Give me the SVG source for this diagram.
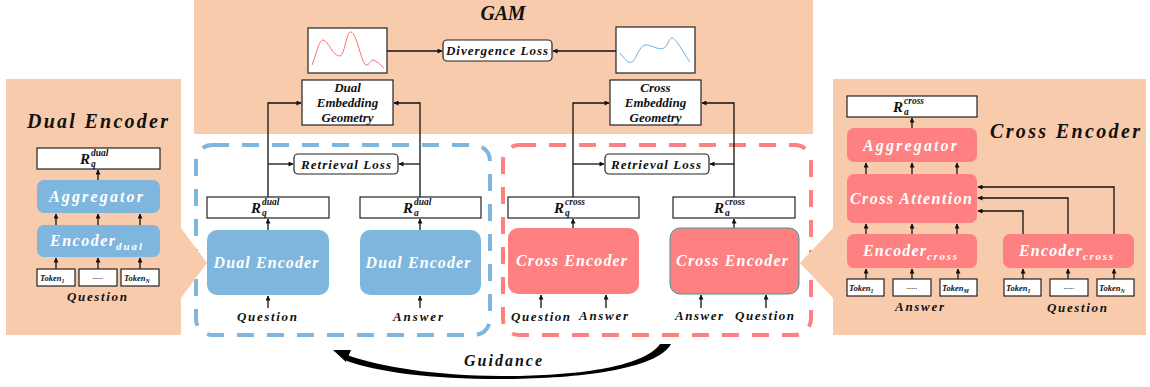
<svg xmlns="http://www.w3.org/2000/svg" width="1150" height="387" viewBox="0 0 1150 387">
<style>
.pan{fill:#F8CBAD}
.blue{fill:#7FB6DE}
.red{fill:#FF8080}
.wb{fill:#fff;stroke:#222;stroke-width:1.2}
.t{font-family:"Liberation Serif",serif;font-weight:bold;font-style:italic;fill:#111}
.w{fill:#fff}
.ln{stroke:#111;stroke-width:1.3;fill:none}
.arr{marker-end:url(#ah)}
.mid{text-anchor:middle}
</style>
<defs>
<marker id="ah" viewBox="0 0 10 10" refX="9" refY="5" markerWidth="6" markerHeight="5" orient="auto" markerUnits="userSpaceOnUse"><path d="M0,0 L10,5 L0,10 z" fill="#111"/></marker>
</defs>
<rect width="1150" height="387" fill="#fff"/>

<!-- panels -->
<g id="gam-panel">
<rect class="pan" x="194" y="0" width="619" height="134"/>
<text class="t mid" x="503" y="20" font-size="20" textLength="45" lengthAdjust="spacing">GAM</text>
</g>

<g id="dual-group" fill="none" stroke="#7FB6DE" stroke-width="4" stroke-dasharray="17 13">
<rect x="196" y="145" width="294" height="190" rx="16"/>
</g>
<g id="cross-group" fill="none" stroke="#FF8080" stroke-width="4" stroke-dasharray="17 13">
<rect x="503" y="145" width="308" height="190" rx="16"/>
</g>

<g id="dual-panel">
<path class="pan" d="M6,79 H181 V228 L207,263 L181,298 V335 H6 Z"/>
<text class="t mid" x="97.5" y="128" font-size="20" textLength="141" lengthAdjust="spacing">Dual Encoder</text>
</g>
<g id="cross-panel">
<path class="pan" d="M1146,79 V335 H833 V298 L800,263 L833,228 V79 Z"/>
<text class="t mid" x="1065" y="138" font-size="20" textLength="150" lengthAdjust="spacing">Cross Encoder</text>
</g>

<!-- connectors -->
<g id="connectors">
<path class="ln arr" d="M268,197 V103 H301"/>
<path class="ln arr" d="M268,164 H293"/>
<path class="ln arr" d="M420,197 V103 H394"/>
<path class="ln arr" d="M420,164 H399"/>
<path class="ln arr" d="M573,197 V103 H609"/>
<path class="ln arr" d="M573,164 H604"/>
<path class="ln arr" d="M734,197 V103 H702"/>
<path class="ln arr" d="M734,164 H710"/>
<path class="ln arr" d="M387,51 H442"/>
<path class="ln arr" d="M616,51 H553"/>
<path class="ln arr" d="M268,230 V219"/>
<path class="ln arr" d="M420,230 V219"/>
<path class="ln arr" d="M573,228 V219"/>
<path class="ln arr" d="M734,228 V219"/>
<path class="ln arr" d="M268,308 V296"/>
<path class="ln arr" d="M420,308 V296"/>
<path class="ln arr" d="M541,308 V295"/>
<path class="ln arr" d="M606,308 V295"/>
<path class="ln arr" d="M701,308 V295"/>
<path class="ln arr" d="M766,308 V295"/>
<!-- left panel -->
<path class="ln arr" d="M98,180 V170"/>
<path class="ln arr" d="M56,225 V214"/>
<path class="ln arr" d="M98,225 V214"/>
<path class="ln arr" d="M140,225 V214"/>
<path class="ln arr" d="M56,269 V258"/>
<path class="ln arr" d="M98,269 V258"/>
<path class="ln arr" d="M140,269 V258"/>
<!-- right panel -->
<path class="ln arr" d="M912,128 V118"/>
<path class="ln arr" d="M866,174 V163"/>
<path class="ln arr" d="M912,174 V163"/>
<path class="ln arr" d="M957,174 V163"/>
<path class="ln arr" d="M866,234 V224"/>
<path class="ln arr" d="M912,234 V224"/>
<path class="ln arr" d="M957,234 V224"/>
<path class="ln arr" d="M1023,234 V211 H978"/>
<path class="ln arr" d="M1068,234 V198 H978"/>
<path class="ln arr" d="M1114,234 V187 H978"/>
<path class="ln arr" d="M866,279 V269"/>
<path class="ln arr" d="M912,279 V269"/>
<path class="ln arr" d="M958,279 V269"/>
<path class="ln arr" d="M1023,279 V269"/>
<path class="ln arr" d="M1068,279 V269"/>
<path class="ln arr" d="M1114,279 V269"/>
<!-- guidance -->
<path fill="#000" d="M660,344 L671,344 C656,371 570,379 500,379 C430,379 378,372 347,361 L347,355 C380,367 435,375.5 500,376 C565,376.5 643,369 660,344 Z"/>
<polygon fill="#000" points="333,350 351,350 346,362"/>
<text class="t mid" x="503" y="366" font-size="16" textLength="78" lengthAdjust="spacing">Guidance</text>
</g>

<!-- GAM nodes -->
<g id="red-plot">
<rect class="wb" x="308" y="28" width="79" height="45"/>
<path fill="none" stroke="#FF6B6B" stroke-width="1" d="M312,65 C316,55 319,40 323,40 C328,40 333,57 340,56 C345,55 346,31 351,32 C357,33 361,63 366,65 C369,66 371,59 373,60 C377,61 380,65 384,68"/>
</g>
<g id="blue-plot">
<rect class="wb" x="616" y="27" width="79" height="46"/>
<path fill="none" stroke="#6FAEDC" stroke-width="1" d="M620,53 C624,58 628,64 632,62 C636,60 639,46 645,45 C651,44 658,51 664,48 C668,46 669,38 672,38 C676,38 684,54 690,62"/>
</g>
<g id="divergence-loss">
<rect class="wb" x="443" y="40" width="109" height="21" rx="4"/>
<text class="t mid" x="497" y="55" font-size="13" textLength="102" lengthAdjust="spacing">Divergence Loss</text>
</g>
<g id="dual-geometry">
<rect class="wb" x="302" y="80" width="91" height="45"/>
<text class="t mid" x="347.5" y="92" font-size="13">Dual</text>
<text class="t mid" x="347.5" y="107" font-size="13">Embedding</text>
<text class="t mid" x="347.5" y="122" font-size="13">Geometry</text>
</g>
<g id="cross-geometry">
<rect class="wb" x="610" y="80" width="91" height="45"/>
<text class="t mid" x="655.5" y="92" font-size="13">Cross</text>
<text class="t mid" x="655.5" y="107" font-size="13">Embedding</text>
<text class="t mid" x="655.5" y="122" font-size="13">Geometry</text>
</g>

<!-- dual side -->
<g id="dual-retrieval-loss">
<rect class="wb" x="294" y="154" width="104" height="20" rx="4"/>
<text class="t mid" x="346" y="168.5" font-size="13" textLength="90" lengthAdjust="spacing">Retrieval Loss</text>
</g>
<g id="rq-dual">
<rect class="wb" x="207" y="197" width="122" height="21"/>
<text class="t" x="251" y="213" font-size="15">R</text>
<text class="t" x="262" y="204.5" font-size="9.5">dual</text>
<text class="t" x="262" y="216" font-size="9.5">q</text>
</g>
<g id="ra-dual">
<rect class="wb" x="360" y="197" width="121" height="21"/>
<text class="t" x="403" y="213" font-size="15">R</text>
<text class="t" x="414" y="204.5" font-size="9.5">dual</text>
<text class="t" x="414" y="216" font-size="9.5">a</text>
</g>
<g id="dual-encoder-q">
<rect class="blue" x="207" y="230" width="122" height="65" rx="10"/>
<text class="t mid w" x="266" y="268" font-size="16" textLength="105" lengthAdjust="spacing">Dual Encoder</text>
<text class="t mid" x="267" y="321" font-size="13" textLength="60" lengthAdjust="spacing">Question</text>
</g>
<g id="dual-encoder-a">
<rect class="blue" x="360" y="230" width="121" height="65" rx="10"/>
<text class="t mid w" x="418" y="268" font-size="16" textLength="105" lengthAdjust="spacing">Dual Encoder</text>
<text class="t mid" x="418" y="321" font-size="13" textLength="50" lengthAdjust="spacing">Answer</text>
</g>

<!-- cross side -->
<g id="cross-retrieval-loss">
<rect class="wb" x="605" y="154" width="104" height="20" rx="4"/>
<text class="t mid" x="656" y="168.5" font-size="13" textLength="90" lengthAdjust="spacing">Retrieval Loss</text>
</g>
<g id="rq-cross">
<rect class="wb" x="508" y="197" width="131" height="21"/>
<text class="t" x="554" y="213" font-size="15">R</text>
<text class="t" x="565" y="204.5" font-size="9.5">cross</text>
<text class="t" x="565" y="216" font-size="9.5">q</text>
</g>
<g id="ra-cross">
<rect class="wb" x="673" y="197" width="122" height="21"/>
<text class="t" x="714" y="213" font-size="15">R</text>
<text class="t" x="725" y="204.5" font-size="9.5">cross</text>
<text class="t" x="725" y="216" font-size="9.5">a</text>
</g>
<g id="cross-encoder-qa">
<rect class="red" x="508" y="228" width="131" height="66" rx="10"/>
<text class="t mid w" x="571.5" y="266" font-size="16" textLength="111" lengthAdjust="spacing">Cross Encoder</text>
<text class="t mid" x="540.5" y="321" font-size="13" textLength="59" lengthAdjust="spacing">Question</text>
<text class="t mid" x="603.5" y="320" font-size="13" textLength="49" lengthAdjust="spacing">Answer</text>
</g>
<g id="cross-encoder-aq">
<rect class="red" x="670" y="228" width="129" height="66" rx="10" stroke="#3A9B9B" stroke-width="1"/>
<text class="t mid w" x="732" y="266" font-size="16" textLength="112" lengthAdjust="spacing">Cross Encoder</text>
<text class="t mid" x="699" y="320" font-size="13" textLength="48" lengthAdjust="spacing">Answer</text>
<text class="t mid" x="764.5" y="320" font-size="13" textLength="59" lengthAdjust="spacing">Question</text>
</g>

<!-- left panel nodes -->
<g id="l-rq-dual">
<rect class="wb" x="37" y="148" width="123" height="21"/>
<text class="t" x="80" y="164" font-size="15">R</text>
<text class="t" x="91" y="155.5" font-size="9.5">dual</text>
<text class="t" x="91" y="167" font-size="9.5">q</text>
</g>
<g id="l-aggregator">
<rect class="blue" x="37" y="180" width="123" height="33" rx="7"/>
<text class="t mid w" x="96" y="202" font-size="16" textLength="94" lengthAdjust="spacing">Aggregator</text>
</g>
<g id="l-encoder">
<rect class="blue" x="37" y="225" width="123" height="32" rx="7"/>
<text class="t w" x="50" y="246" font-size="16" textLength="65" lengthAdjust="spacing">Encoder</text>
<text class="t w" x="116" y="250" font-size="11" textLength="26" lengthAdjust="spacing">dual</text>
</g>
<g id="l-tokens">
<rect class="wb" x="37" y="269" width="38" height="17"/>
<rect class="wb" x="79" y="269" width="38" height="17"/>
<rect class="wb" x="121" y="269" width="38" height="17"/>
<text class="t" x="40" y="281" font-size="8.5">Token<tspan font-size="6" dy="2">1</tspan></text>
<text class="t mid" x="98" y="279" font-size="7">......</text>
<text class="t" x="124" y="281" font-size="8.5">Token<tspan font-size="6" dy="2">N</tspan></text>
<text class="t mid" x="97" y="301" font-size="13" textLength="60" lengthAdjust="spacing">Question</text>
</g>

<!-- right panel nodes -->
<g id="r-ra-cross">
<rect class="wb" x="847" y="96" width="130" height="21"/>
<text class="t" x="893" y="112" font-size="15">R</text>
<text class="t" x="904" y="103.5" font-size="9.5">cross</text>
<text class="t" x="904" y="115" font-size="9.5">a</text>
</g>
<g id="r-aggregator">
<rect class="red" x="847" y="128" width="130" height="34" rx="7"/>
<text class="t mid w" x="910" y="151" font-size="16" textLength="94" lengthAdjust="spacing">Aggregator</text>
</g>
<g id="r-cross-attention">
<rect class="red" x="847" y="174" width="130" height="49" rx="7"/>
<text class="t mid w" x="911" y="204" font-size="16" textLength="122" lengthAdjust="spacing">Cross Attention</text>
</g>
<g id="r-encoder-a">
<rect class="red" x="847" y="234" width="130" height="34" rx="7"/>
<text class="t w" x="863" y="256" font-size="16" textLength="63" lengthAdjust="spacing">Encoder</text>
<text class="t w" x="927" y="260" font-size="11" textLength="30" lengthAdjust="spacing">cross</text>
</g>
<g id="r-encoder-q">
<rect class="red" x="1003" y="234" width="131" height="34" rx="7"/>
<text class="t w" x="1019" y="256" font-size="16" textLength="63" lengthAdjust="spacing">Encoder</text>
<text class="t w" x="1083" y="260" font-size="11" textLength="30" lengthAdjust="spacing">cross</text>
</g>
<g id="r-tokens-a">
<rect class="wb" x="847" y="279" width="37" height="17"/>
<rect class="wb" x="893" y="279" width="38" height="17"/>
<rect class="wb" x="940" y="279" width="37" height="17"/>
<text class="t" x="849" y="291" font-size="8.5">Token<tspan font-size="6" dy="2">1</tspan></text>
<text class="t mid" x="912" y="289" font-size="7">......</text>
<text class="t" x="942" y="291" font-size="8.5">Token<tspan font-size="6" dy="2">M</tspan></text>
<text class="t mid" x="919.5" y="311" font-size="13" textLength="49" lengthAdjust="spacing">Answer</text>
</g>
<g id="r-tokens-q">
<rect class="wb" x="1004" y="279" width="37" height="17"/>
<rect class="wb" x="1050" y="279" width="38" height="17"/>
<rect class="wb" x="1097" y="279" width="37" height="17"/>
<text class="t" x="1006" y="291" font-size="8.5">Token<tspan font-size="6" dy="2">1</tspan></text>
<text class="t mid" x="1069" y="289" font-size="7">......</text>
<text class="t" x="1099" y="291" font-size="8.5">Token<tspan font-size="6" dy="2">N</tspan></text>
<text class="t mid" x="1077" y="312" font-size="13" textLength="60" lengthAdjust="spacing">Question</text>
</g>
</svg>
